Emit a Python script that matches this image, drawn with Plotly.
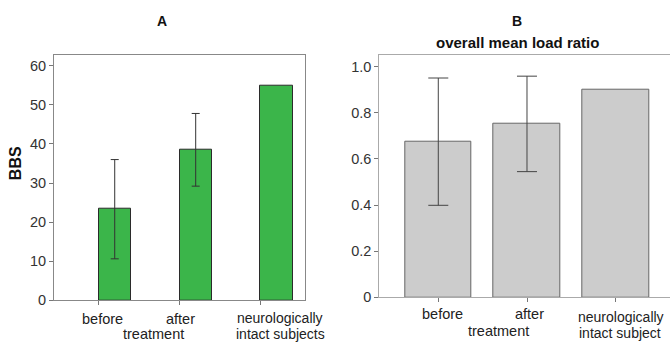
import plotly.graph_objects as go

W, H = 670, 349

# Panel A: Berg Balance Scale
bbs_groups = ["before", "after", "neurologically intact subjects"]
bbs_mean = [23.3, 38.5, 55.0]
# SD only for the patient groups (before / after treatment)
bbs_sd = [12.7, 9.3]
bbs_ticks = [0, 10, 20, 30, 40, 50, 60]

# Panel B: overall mean load ratio
load_groups = ["before", "after", "neurologically intact subject"]
load_mean = [0.675, 0.752, 0.90]
load_sd = [0.276, 0.207]
load_ticks = [0, 0.2, 0.4, 0.6, 0.8, 1.0]
load_ticktext = ["0", "0.2", "0.4", "0.6", "0.8", "1.0"]

FONT = "Liberation Sans, Arial, sans-serif"


def px(x, y):
    """Pixel position -> paper coordinates."""
    return x / W, 1 - y / H


fig = go.Figure()

xa = list(range(len(bbs_groups)))
fig.add_trace(go.Bar(
    x=xa, y=bbs_mean, width=0.4,
    marker=dict(color="#3bb54a", line=dict(color="#2b2b2b", width=1)),
    xaxis="x", yaxis="y", showlegend=False,
))
n = len(bbs_sd)
fig.add_trace(go.Scatter(
    x=xa[:n], y=bbs_mean[:n], mode="markers",
    marker=dict(size=1, opacity=0),
    error_y=dict(type="data", array=bbs_sd, visible=True,
                 color="#333333", thickness=1, width=4),
    xaxis="x", yaxis="y", showlegend=False, hoverinfo="skip",
))

xb = list(range(len(load_groups)))
fig.add_trace(go.Bar(
    x=xb, y=load_mean, width=0.755,
    marker=dict(color="#cccccc", line=dict(color="#666666", width=1)),
    xaxis="x2", yaxis="y2", showlegend=False,
))
n = len(load_sd)
fig.add_trace(go.Scatter(
    x=xb[:n], y=load_mean[:n], mode="markers",
    marker=dict(size=1, opacity=0),
    error_y=dict(type="data", array=load_sd, visible=True,
                 color="#444444", thickness=1, width=10),
    xaxis="x2", yaxis="y2", showlegend=False, hoverinfo="skip",
))

axis_lines = dict(showgrid=False, zeroline=False, ticks="outside",
                  tickcolor="#777777", ticklen=4, tickwidth=1,
                  linewidth=1, showline=True, fixedrange=True)
tick_font = dict(family=FONT, size=14.5, color="#333333")

fig.update_layout(
    width=W, height=H,
    margin=dict(l=0, r=0, t=0, b=0),
    paper_bgcolor="white", plot_bgcolor="white",
    bargap=0,
    xaxis=dict(domain=[54 / W, 305 / W], range=[-0.75, 2.35],
               tickvals=[i - 0.2 for i in xa], showticklabels=False,
               mirror=True, linecolor="#888888", anchor="y", **axis_lines),
    yaxis=dict(domain=[1 - 307.3 / H, 1 - 56 / H], range=[0, 62.83],
               tickvals=bbs_ticks, mirror=True, linecolor="#888888",
               anchor="x", tickfont=tick_font, **axis_lines),
    xaxis2=dict(domain=[379.3 / W, 1.0], range=[-0.665, 2.612],
                tickvals=xb, showticklabels=False, mirror=True,
                linecolor="#aaaaaa", anchor="y2", **axis_lines),
    yaxis2=dict(domain=[1 - 304.3 / H, 1 - 56 / H], range=[0, 1.052],
                tickvals=load_ticks, ticktext=load_ticktext,
                linecolor="#aaaaaa", anchor="x2", tickfont=tick_font,
                **axis_lines),
)

annotations = []


def label(text, x, y, size=14.5, bold=False, angle=0, color="#222222"):
    ax, ay = px(x, y)
    annotations.append(dict(
        text=f"<b>{text}</b>" if bold else text,
        x=ax, y=ay, xref="paper", yref="paper",
        xanchor="center", yanchor="middle", showarrow=False,
        textangle=angle,
        font=dict(family=FONT, size=size, color=color),
    ))


# Titles
label("A", 161.7, 21.5, size=14, bold=True, color="#111111")
label("B", 516.7, 21.5, size=14, bold=True, color="#111111")
label("overall mean load ratio", 517.7, 43.5, size=15, bold=True, color="#111111")
label("BBS", 15, 167, size=16, bold=True, angle=-90, color="#111111")

# Category labels, panel A
label("before", 102.5, 326)
label("after", 180, 326)
label("treatment", 153, 342)
label("neurologically", 280, 325.5, size=14)
label("intact subjects", 280, 341.5, size=14)

# Category labels, panel B
label("before", 442.5, 321.5)
label("after", 529.7, 321.5)
label("treatment", 498, 338.5)
label("neurologically", 621, 324.5, size=14)
label("intact subject", 620, 340.5, size=14)

fig.update_layout(annotations=annotations)

fig.write_html("out.html")
